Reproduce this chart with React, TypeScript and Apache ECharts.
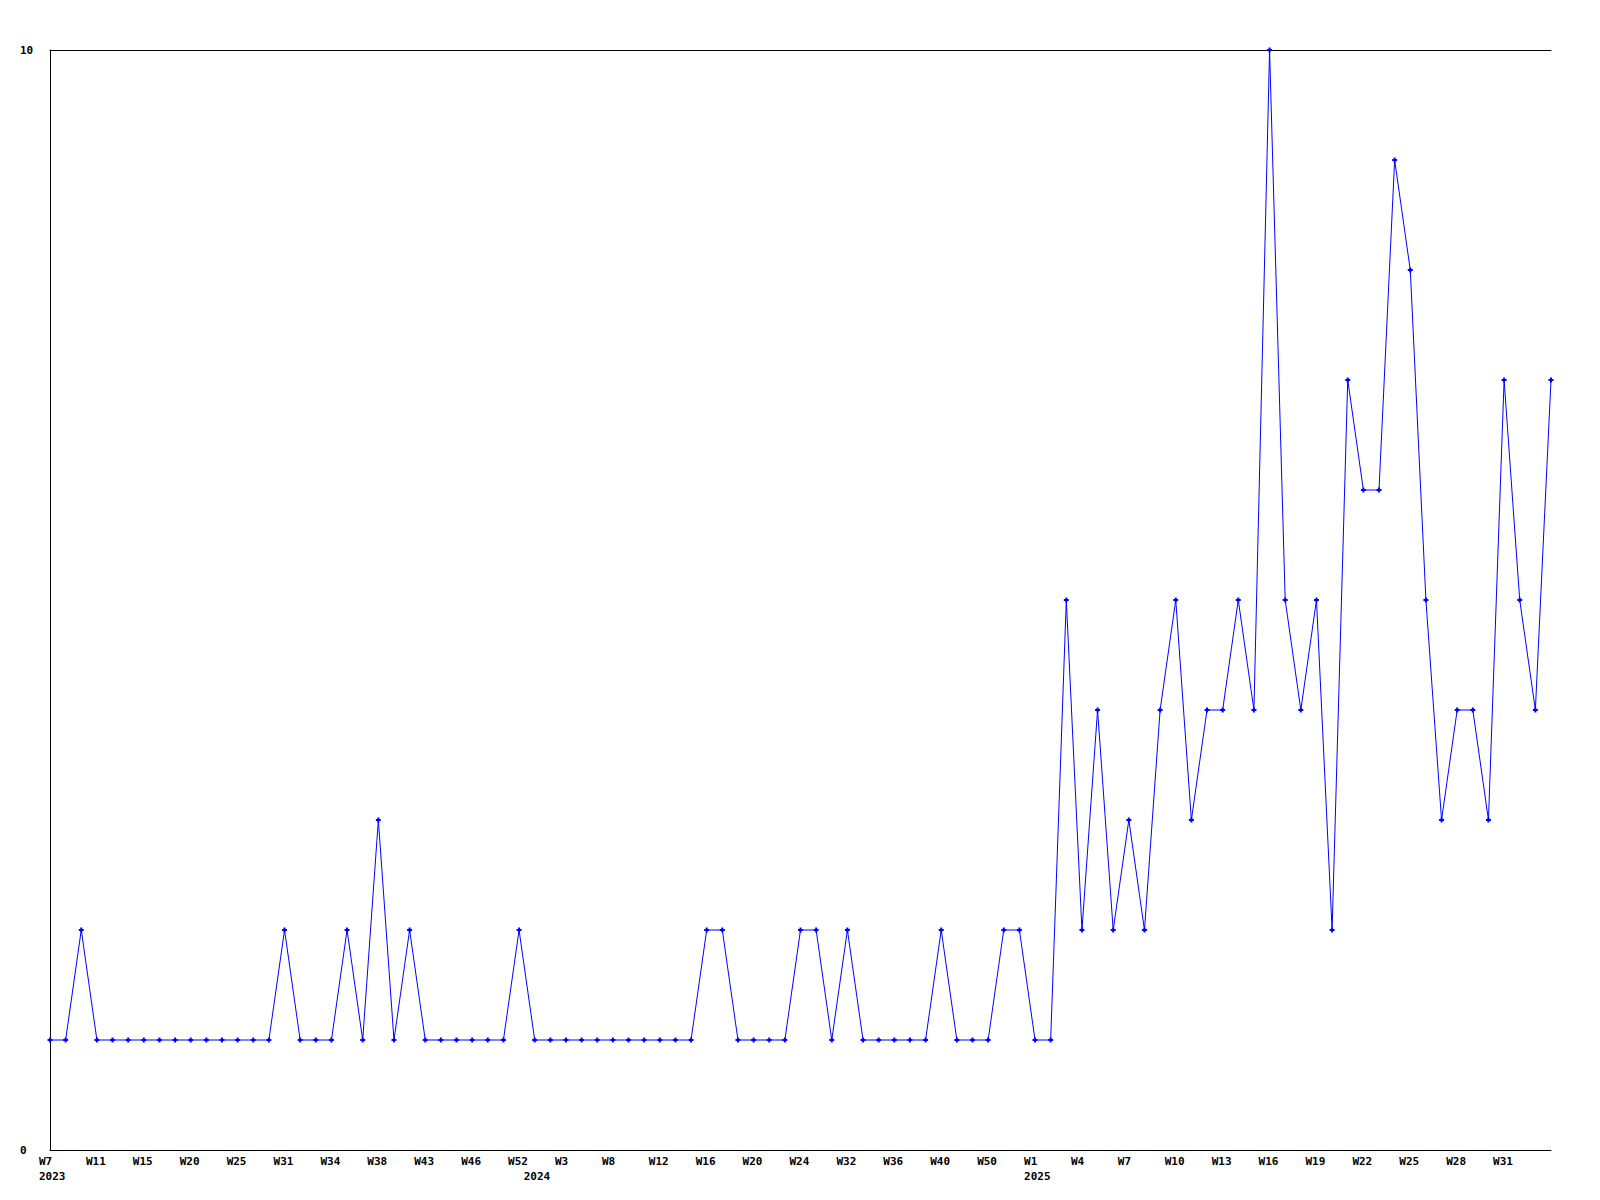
import React, { useEffect, useRef } from 'react';
import * as echarts from 'echarts';

const weeks2023 = ['W7','W8','W10','W11','W12','W14','W15','W17','W18','W20','W22','W23','W25','W27','W29','W31','W32','W33','W34','W35','W37','W38','W40','W41','W43','W44','W45','W46','W48','W50','W52'];
const weeks2024 = ['W1','W2','W3','W5','W6','W8','W9','W11','W12','W14','W15','W16','W17','W18','W20','W21','W22','W24','W27','W30','W32','W33','W35','W36','W38','W39','W40','W43','W47','W50','W51','W52'];
const weeks2025 = ['W1','W2','W3','W4','W5','W6','W7','W8','W9','W10','W11','W12','W13','W14','W15','W16','W17','W18','W19','W20','W21','W22','W23','W24','W25','W26','W27','W28','W29','W30','W31','W32','W33','W34'];

const values2023 = [1,1,2,1,1,1,1,1,1,1,1,1,1,1,1,2,1,1,1,2,1,3,1,2,1,1,1,1,1,1,2];
const values2024 = [1,1,1,1,1,1,1,1,1,1,1,2,2,1,1,1,1,2,2,1,2,1,1,1,1,1,2,1,1,1,2,2];
const values2025 = [1,1,5,2,4,2,3,2,4,5,3,4,4,5,4,10,5,4,5,2,7,6,6,9,8,5,3,4,4,3,7,5,4,7];

const yTicks = [0, 10];

const FONT = 'DejaVu Sans Mono';

export default function App() {
  const ref = useRef<HTMLDivElement>(null);
  useEffect(() => {
    document.body.style.margin = '0';
    const chart = echarts.init(ref.current!, null, { renderer: 'svg' });
    const categories: string[] = [
      ...weeks2023.map((w) => `2023-${w}`),
      ...weeks2024.map((w) => `2024-${w}`),
      ...weeks2025.map((w) => `2025-${w}`),
    ];
    const values = [...values2023, ...values2024, ...values2025];
    const last = categories.length - 1;
    const yearStart = new Set<number>();
    categories.forEach((c, i) => {
      if (i === 0 || c.slice(0, 4) !== categories[i - 1].slice(0, 4)) yearStart.add(i);
    });
    const showWeek = (i: number) => i % 3 === 0 && i < last;
    const plus = 'path://M1.5,0H3.5V1.5H5V3.5H3.5V5H1.5V3.5H0V1.5H1.5Z';
    chart.setOption({
      animation: false,
      grid: { left: 50, right: 49, top: 50, bottom: 50, containLabel: false },
      xAxis: [
        {
          type: 'category',
          data: categories,
          boundaryGap: false,
          position: 'bottom',
          axisLine: { show: true, onZero: false, lineStyle: { color: '#000', width: 1 } },
          axisTick: { show: false },
          splitLine: { show: false },
          axisLabel: {
            interval: (index: number) => showWeek(index) || yearStart.has(index),
            formatter: (value: string, index: number) => {
              const week = showWeek(index) ? value.slice(5) : '';
              const year = yearStart.has(index) ? '\n' + value.slice(0, 4) : '';
              return week + year;
            },
            align: 'left',
            padding: [0, 0, 0, -11],
            margin: 4,
            lineHeight: 15,
            fontFamily: FONT,
            fontWeight: 'bold',
            fontSize: 11,
            color: '#000',
          },
        },
        {
          type: 'category',
          data: categories,
          boundaryGap: false,
          position: 'top',
          axisLine: { show: true, onZero: false, lineStyle: { color: '#000', width: 1 } },
          axisTick: { show: false },
          axisLabel: { show: false },
          splitLine: { show: false },
        },
      ],
      yAxis: {
        type: 'value',
        min: yTicks[0],
        max: yTicks[1],
        interval: 10,
        axisLine: { show: true, lineStyle: { color: '#000', width: 1 } },
        axisTick: { show: false },
        splitLine: { show: false },
        axisLabel: {
          align: 'left',
          margin: 30,
          fontFamily: FONT,
          fontWeight: 'bold',
          fontSize: 11,
          color: '#000',
        },
      },
      series: [
        {
          type: 'line',
          xAxisIndex: 0,
          data: values,
          symbol: plus,
          symbolSize: 5,
          showSymbol: true,
          showAllSymbol: true,
          itemStyle: { color: '#0000ff' },
          lineStyle: { color: '#0000ff', width: 1 },
          emphasis: { disabled: true },
        },
      ],
    });
    return () => chart.dispose();
  }, []);
  return <div ref={ref} style={{ width: 1600, height: 1200 }} />;
}
